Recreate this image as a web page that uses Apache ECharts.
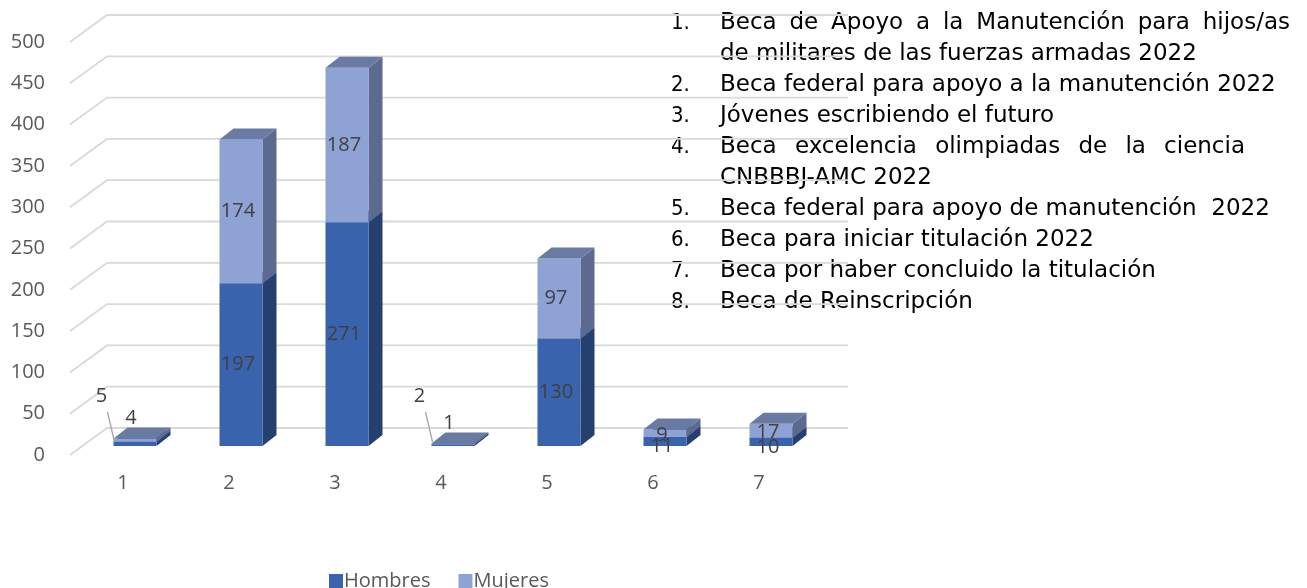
<!DOCTYPE html>
<html>
<head>
<meta charset="utf-8">
<script src="https://cdn.jsdelivr.net/npm/echarts@6/dist/echarts.min.js"></script>
<style>
  html, body { margin: 0; padding: 0; background: #fff; }
  #chart { width: 1307px; height: 588px; }
</style>
</head>
<body>
<div id="chart"></div>
<script>
// Data
const categories = ['1', '2', '3', '4', '5', '6', '7'];
const hombres = [5, 197, 271, 2, 130, 11, 10];
const mujeres = [4, 174, 187, 1, 97, 9, 17];
const yTicks = [0, 50, 100, 150, 200, 250, 300, 350, 400, 450, 500];
const seriesNames = ['Hombres', 'Mujeres'];

// Program list shown on the right (number, lines; justified first line where Excel justified it)
const programas = [
  { num: '1.', lines: ['Beca de Apoyo a la Manutención para hijos/as', 'de militares de las fuerzas armadas 2022'], justify: 570 },
  { num: '2.', lines: ['Beca federal para apoyo a la manutención 2022'] },
  { num: '3.', lines: ['Jóvenes escribiendo el futuro'] },
  { num: '4.', lines: ['Beca excelencia olimpiadas de la ciencia', 'CNBBBJ-AMC 2022'], justify: 525 },
  { num: '5.', lines: ['Beca federal para apoyo de manutención  2022'] },
  { num: '6.', lines: ['Beca para iniciar titulación 2022'] },
  { num: '7.', lines: ['Beca por haber concluido la titulación'] },
  { num: '8.', lines: ['Beca de Reinscripción'] }
];

// 3D look
const FLOOR_DX = 37, FLOOR_DY = -27;
const BAR_W = 43, BAR_DX = 12, BAR_DY = -9;
const SIDE_DX = 14, SIDE_DY = -11;

const colHombres = { front: '#3A63AD', side: '#253F6F', top: '#2F528F' };
const colMujeres = { front: '#8FA2D4', side: '#5B6A8E', top: '#6A7BA3' };

const labelFont = '"Open Sans", "Noto Sans", sans-serif';

function renderGrid(params, api) {
  const cs = params.coordSys;
  const y = api.coord([0, api.value(1)])[1];
  return {
    type: 'polyline',
    shape: {
      points: [
        [cs.x, y],
        [cs.x + FLOOR_DX, y + FLOOR_DY],
        [cs.x + cs.width + FLOOR_DX - 1, y + FLOOR_DY]
      ]
    },
    style: { stroke: '#D9D9D9', lineWidth: 1.8, fill: null }
  };
}

// front-face box of one stacked segment
function segBox(api) {
  const i = api.value(0);
  const base = api.value(1);
  const val = api.value(2);
  const c = api.coord([i, base]);
  const t = api.coord([i, base + val]);
  const x0 = c[0] - BAR_W / 2 + BAR_DX;
  return { x0: x0, x1: x0 + BAR_W, yb: c[1] + BAR_DY, yt: t[1] + BAR_DY };
}

function makeSegment(col) {
  return function (params, api) {
    const b = segBox(api);
    return {
      type: 'group',
      children: [
        { type: 'polygon', shape: { points: [[b.x1, b.yb], [b.x1 + SIDE_DX, b.yb + SIDE_DY], [b.x1 + SIDE_DX, b.yt + SIDE_DY], [b.x1, b.yt]] }, style: { fill: col.side } },
        { type: 'rect', shape: { x: b.x0, y: b.yt, width: BAR_W, height: Math.max(b.yb - b.yt, 0.5) }, style: { fill: col.front } },
        { type: 'polygon', shape: { points: [[b.x0, b.yt], [b.x1, b.yt], [b.x1 + SIDE_DX, b.yt + SIDE_DY], [b.x0 + SIDE_DX, b.yt + SIDE_DY]] }, style: { fill: col.top } }
      ]
    };
  };
}

function renderLabel(params, api) {
  const b = segBox(api);
  const val = api.value(2);
  const total = api.value(3);
  const isTopSeg = api.value(4) === 1;
  const cx = (b.x0 + b.x1) / 2;
  const children = [];
  let lx = cx - 3, ly = (b.yb + b.yt) / 2;
  if (total < 15) {
    if (!isTopSeg) {
      lx = b.x0 - 12; ly = b.yb - 50;
      children.push({
        type: 'line',
        shape: { x1: b.x0 - 6, y1: b.yb - 34, x2: b.x0 + 1, y2: b.yb - 4 },
        style: { stroke: '#A6A6A6', lineWidth: 1.3 }
      });
    } else {
      lx = cx - 4; ly = b.yt - 20;
    }
  } else if (total < 40) {
    ly += isTopSeg ? 2 : 5;
  }
  children.push({
    type: 'text',
    x: lx, y: ly,
    style: {
      text: String(val),
      fill: '#404040',
      font: '20px ' + labelFont,
      align: 'center',
      verticalAlign: 'middle'
    }
  });
  return { type: 'group', children: children };
}

const hombresData = categories.map((c, i) => [i, 0, hombres[i], hombres[i] + mujeres[i], 0]);
const mujeresData = categories.map((c, i) => [i, hombres[i], mujeres[i], hombres[i] + mujeres[i], 1]);

// list text as graphic elements
const measureCtx = document.createElement('canvas').getContext('2d');
function textWidth(s, font) { measureCtx.font = font; return measureCtx.measureText(s).width; }
const listFont = '23px "DejaVu Sans", Verdana, sans-serif';
const numFont = '22px "Liberation Sans Narrow", "DejaVu Sans Condensed", sans-serif';
const graphics = [];
let row = 0;
programas.forEach(p => {
  p.lines.forEach((line, k) => {
    const y = 23 + row * 31;
    if (k === 0) {
      graphics.push({ type: 'text', x: 671, y: y, style: { text: p.num, font: numFont, fill: '#000', verticalAlign: 'middle' } });
    }
    if (k === 0 && p.justify) {
      const words = line.split(' ');
      const widths = words.map(w => textWidth(w, listFont));
      const sum = widths.reduce((a, b) => a + b, 0);
      const gap = (p.justify - sum) / (words.length - 1);
      let x = 720;
      words.forEach((w, j) => {
        graphics.push({ type: 'text', x: x, y: y, style: { text: w, font: listFont, fill: '#000', verticalAlign: 'middle' } });
        x += widths[j] + gap;
      });
    } else {
      graphics.push({ type: 'text', x: 720, y: y, style: { text: line, font: listFont, fill: '#000', verticalAlign: 'middle' } });
    }
    row++;
  });
});

const chart = echarts.init(document.getElementById('chart'));

const option = {
  animation: false,
  backgroundColor: '#fff',
  grid: { left: 70, right: 495, top: 42, bottom: 133 },
  legend: {
    data: seriesNames.map(n => ({ name: n, icon: 'rect' })),
    left: 324,
    top: 566,
    itemWidth: 14,
    itemHeight: 14,
    itemGap: 28,
    textStyle: { fontSize: 20, color: '#595959', fontFamily: labelFont, padding: [0, 0, 0, -4] }
  },
  xAxis: {
    type: 'category',
    data: categories,
    axisLine: { show: false },
    axisTick: { show: false },
    axisLabel: { fontSize: 20, color: '#595959', fontFamily: labelFont, margin: 18 }
  },
  yAxis: {
    type: 'value',
    min: 0,
    max: 500,
    interval: 50,
    splitLine: { show: false },
    axisLine: { show: false },
    axisTick: { show: false },
    axisLabel: { fontSize: 20, color: '#595959', fontFamily: labelFont, margin: 25 }
  },
  graphic: graphics,
  series: [
    {
      type: 'custom',
      name: 'grid',
      silent: true,
      z: 1,
      renderItem: renderGrid,
      data: yTicks.map(v => [0, v])
    },
    {
      type: 'custom',
      name: seriesNames[0],
      z: 2,
      itemStyle: { color: colHombres.front },
      renderItem: makeSegment(colHombres),
      encode: { x: 0, y: 2 },
      data: hombresData
    },
    {
      type: 'custom',
      name: seriesNames[1],
      z: 3,
      itemStyle: { color: colMujeres.front },
      renderItem: makeSegment(colMujeres),
      encode: { x: 0, y: 2 },
      data: mujeresData
    },
    {
      type: 'custom',
      name: 'labels',
      silent: true,
      z: 5,
      renderItem: renderLabel,
      encode: { x: 0, y: 2 },
      data: hombresData.concat(mujeresData)
    }
  ]
};

chart.setOption(option);
</script>
</body>
</html>
